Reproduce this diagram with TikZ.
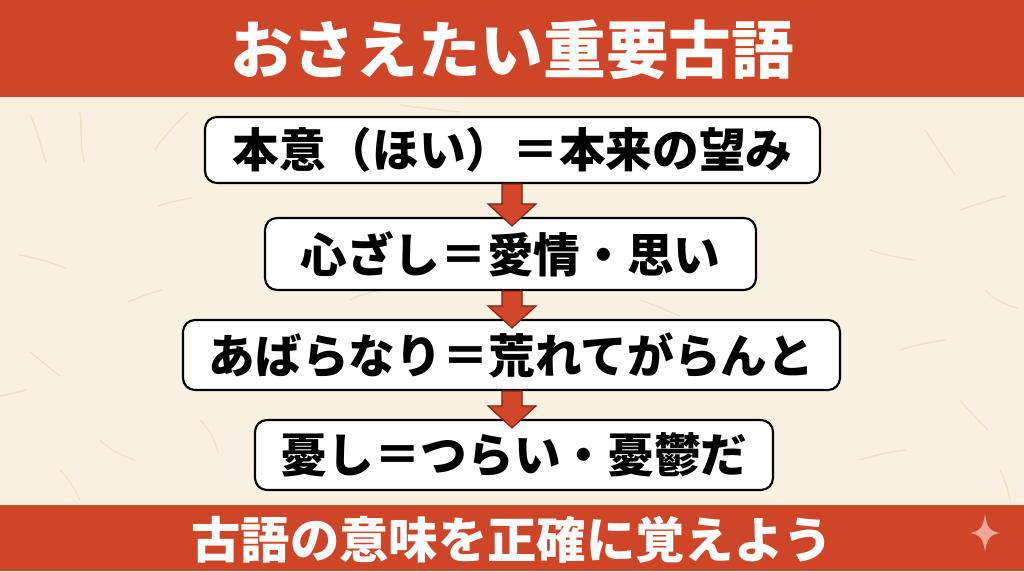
\documentclass[tikz,border=0pt]{standalone}
\usepackage{fontspec}
\setmainfont{Noto Sans CJK JP}
\usetikzlibrary{calc}
\definecolor{banner}{HTML}{CF4527}
\definecolor{paper}{HTML}{F8F1E2}
\definecolor{fiber}{HTML}{ECE0C8}
\definecolor{arrowred}{HTML}{D2472A}
\definecolor{arrowline}{HTML}{7A2414}
\definecolor{spark}{HTML}{EBA898}
\pgfdeclarelayer{bg}
\pgfsetlayers{bg,main}
\begin{document}
\begin{tikzpicture}[x=0.75pt,y=-0.75pt,
  termbox/.style={draw=black, line width=1.6pt, fill=white, rounded corners=9pt, inner sep=0pt,
    font=\fontsize{35}{40}\selectfont\bfseries, text=black},
  downarrow/.style={fill=arrowred, draw=arrowline, line width=0.9pt, line join=miter},
  fiberline/.style={draw=fiber, line width=1pt, line cap=round}]
\useasboundingbox (0,0) rectangle (1024,571);
\begin{pgfonlayer}{bg}
\fill[paper] (0,0) rectangle (1024,571);
% paper fibres
\draw[fiberline] (30,115) .. controls (38,130) and (40,145) .. (46,162);
\draw[fiberline] (80,112) .. controls (82,130) and (80,145) .. (84,162);
\draw[fiberline] (155,150) .. controls (165,135) and (175,125) .. (188,112);
\draw[fiberline] (158,206) .. controls (170,202) and (180,200) .. (192,198);
\draw[fiberline] (20,255) .. controls (35,258) and (50,262) .. (66,268);
\draw[fiberline] (128,302) .. controls (140,297) and (150,293) .. (162,290);
\draw[fiberline] (30,352) .. controls (40,360) and (50,368) .. (60,376);
\draw[fiberline] (0,396) .. controls (10,394) and (18,392) .. (26,390);
\draw[fiberline] (100,440) .. controls (110,450) and (120,455) .. (135,460);
\draw[fiberline] (60,470) .. controls (70,480) and (75,490) .. (80,500);
\draw[fiberline] (925,130) .. controls (935,145) and (945,160) .. (955,175);
\draw[fiberline] (960,210) .. controls (975,205) and (990,200) .. (1005,196);
\draw[fiberline] (870,250) .. controls (885,255) and (900,258) .. (915,260);
\draw[fiberline] (985,290) .. controls (995,300) and (1005,305) .. (1018,308);
\draw[fiberline] (900,350) .. controls (915,345) and (930,342) .. (945,340);
\draw[fiberline] (960,400) .. controls (970,412) and (978,420) .. (988,430);
\draw[fiberline] (860,460) .. controls (875,455) and (890,452) .. (905,450);
\draw[fiberline] (1000,470) .. controls (1005,480) and (1008,490) .. (1010,500);
\draw[fiberline] (400,105) .. controls (420,108) and (440,110) .. (460,112);
\draw[fiberline] (640,300) .. controls (655,305) and (665,310) .. (680,316);
\draw[fiberline] (350,300) .. controls (360,295) and (370,292) .. (382,290);
\draw[fiberline] (200,420) .. controls (210,430) and (215,440) .. (218,452);
\end{pgfonlayer}
% banners
\fill[banner] (0,0) rectangle (1024,97);
\fill[banner] (0,505) rectangle (1024,571);
\node[font=\fontsize{47}{50}\selectfont\bfseries, text=white] (title) at (512,50) {おさえたい重要古語};
\node[font=\fontsize{37}{40}\selectfont\bfseries, text=white] (footer) at (512,540) {古語の意味を正確に覚えよう};
% sparkle
\fill[spark] (985,514) .. controls (987,528) and (990,531) .. (1000,533)
  .. controls (990,535) and (987,538) .. (985,552)
  .. controls (983,538) and (980,535) .. (970,533)
  .. controls (980,531) and (983,528) .. (985,514) -- cycle;
% term boxes
\node[termbox, minimum width=461.25pt, minimum height=49.5pt] (b1) at (512.5,150) {本意（ほい）＝本来の望み};
\node[termbox, minimum width=368.25pt, minimum height=54pt] (b2) at (510.5,254) {心ざし＝愛情・思い};
\node[termbox, minimum width=492.75pt, minimum height=52.5pt] (b3) at (511.5,355) {あばらなり＝荒れてがらんと};
\node[termbox, minimum width=388.5pt, minimum height=52.5pt] (b4) at (514,455) {憂し＝つらい・憂鬱だ};
% arrows
\coordinate (axis) at (512,0);
\foreach \a/\b in {b1/b2,b2/b3,b3/b4} {
  \draw[downarrow] ($(axis |- \a.south)+(-10,0)$) -- ($(axis |- \a.south)+(10,0)$)
    -- ($(axis |- \b.north)+(10,-13)$) -- ($(axis |- \b.north)+(24,-13)$)
    -- ($(axis |- \b.north)+(0,9)$) -- ($(axis |- \b.north)+(-24,-13)$)
    -- ($(axis |- \b.north)+(-10,-13)$) -- cycle;
}
\end{tikzpicture}
\end{document}
